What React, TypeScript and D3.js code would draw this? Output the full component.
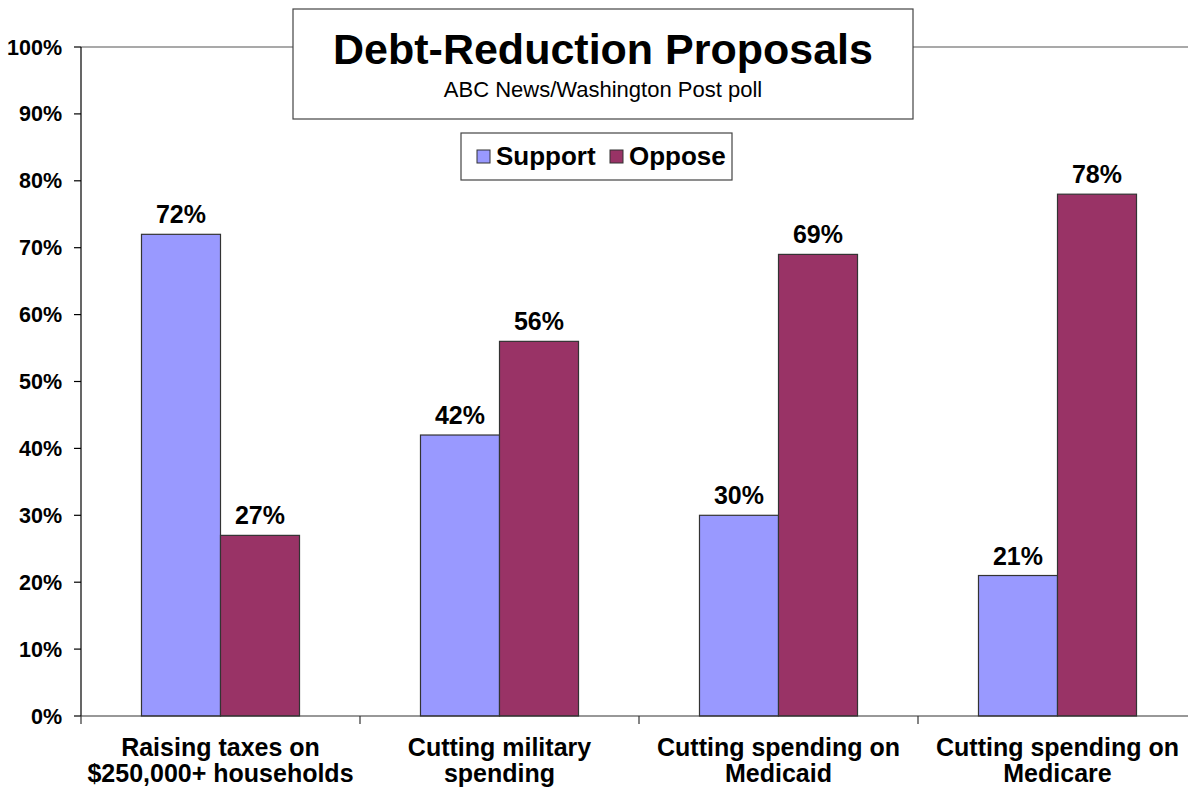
import React from "react";
import * as d3 from "d3";

const categories = [
  ["Raising taxes on", "$250,000+ households"],
  ["Cutting military", "spending"],
  ["Cutting spending on", "Medicaid"],
  ["Cutting spending on", "Medicare"],
];
const seriesNames = ["Support", "Oppose"];
const support = [72, 42, 30, 21];
const oppose = [27, 56, 69, 78];
const yTicks = [0, 10, 20, 30, 40, 50, 60, 70, 80, 90, 100];
const colors = ["#9999FF", "#993366"];

const W = 1188;
const H = 789;
const FONT = "'Liberation Sans', Arial, sans-serif";

export default function App() {
  const left = 81;
  const right = 1197;
  const top = 47;
  const bottom = 716;
  const idx = categories.map((_, i) => String(i));
  const x = d3.scaleBand<string>().domain(idx).range([left, right]).padding(0);
  const bw = x.bandwidth();
  const x1 = d3
    .scaleBand<string>()
    .domain(seriesNames)
    .range([bw * 0.2168, bw * 0.7832])
    .padding(0);
  const y = d3.scaleLinear().domain([0, 100]).range([bottom, top]);
  const values = [support, oppose];

  return (
    <svg
      width={W}
      height={H}
      style={{ position: "absolute", left: 0, top: 0, background: "#fff" }}
      fontFamily={FONT}
    >
      <rect x={0} y={0} width={W} height={H} fill="#fff" />
      {/* 100% gridline */}
      <line x1={left} x2={W} y1={y(100)} y2={y(100)} stroke="#8c8c8c" strokeWidth={1.5} />
      {/* y axis */}
      <line x1={left} x2={left} y1={y(100)} y2={y(0)} stroke="#000" strokeWidth={1.2} />
      {yTicks.map((t) => (
        <g key={t}>
          <line x1={left - 7} x2={left} y1={y(t)} y2={y(t)} stroke="#000" strokeWidth={1.2} />
          <text
            x={62}
            y={y(t) + 7.5}
            textAnchor="end"
            fontSize={21.5}
            fontWeight="bold"
            fill="#000"
          >
            {t}%
          </text>
        </g>
      ))}
      {/* bars */}
      {idx.map((c, i) => (
        <g key={c} transform={`translate(${x(c)},0)`}>
          {seriesNames.map((s, j) => {
            const v = values[j][i];
            const bx = x1(s)!;
            return (
              <g key={s}>
                <rect
                  x={bx}
                  y={y(v)}
                  width={x1.bandwidth()}
                  height={y(0) - y(v)}
                  fill={colors[j]}
                  stroke="#333"
                  strokeWidth={1.2}
                />
                <text
                  x={bx + x1.bandwidth() / 2}
                  y={y(v) - 11}
                  textAnchor="middle"
                  fontSize={25}
                  fontWeight="bold"
                  fill="#000"
                >
                  {v}%
                </text>
              </g>
            );
          })}
        </g>
      ))}
      {/* x axis */}
      <line x1={left} x2={W} y1={y(0)} y2={y(0)} stroke="#333" strokeWidth={1.2} />
      {idx.map((c) => (
        <line
          key={"t" + c}
          x1={x(c)!}
          x2={x(c)!}
          y1={y(0)}
          y2={y(0) + 8}
          stroke="#333"
          strokeWidth={1.2}
        />
      ))}
      {idx.map((c, i) => (
        <text
          key={"l" + c}
          x={x(c)! + bw / 2}
          textAnchor="middle"
          fontSize={25}
          fontWeight="bold"
          fill="#000"
        >
          <tspan x={x(c)! + bw / 2} y={756}>
            {categories[i][0]}
          </tspan>
          <tspan x={x(c)! + bw / 2} y={782}>
            {categories[i][1]}
          </tspan>
        </text>
      ))}
      {/* title box */}
      <rect x={293} y={9} width={620} height={110} fill="#fff" stroke="#444" strokeWidth={1.2} />
      <text x={603} y={64} textAnchor="middle" fontSize={43} fontWeight="bold" fill="#000">
        Debt-Reduction Proposals
      </text>
      <text x={603} y={97} textAnchor="middle" fontSize={22} fill="#000">
        ABC News/Washington Post poll
      </text>
      {/* legend */}
      <rect x={461} y={133} width={271} height={47} fill="#fff" stroke="#444" strokeWidth={1.2} />
      {seriesNames.map((s, j) => {
        const lx = [477, 610][j];
        return (
          <g key={s}>
            <rect x={lx} y={150} width={13} height={13} fill={colors[j]} stroke="#333" strokeWidth={1} />
            <text x={lx + 19} y={165} fontSize={26} fontWeight="bold" fill="#000">
              {s}
            </text>
          </g>
        );
      })}
    </svg>
  );
}
